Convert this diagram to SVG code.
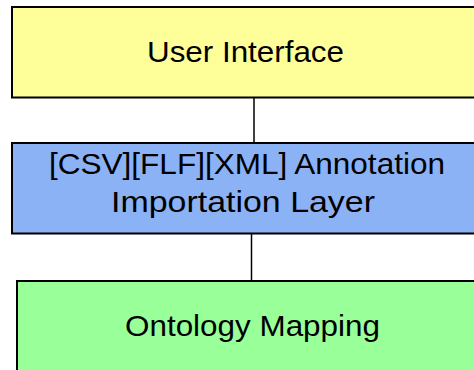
<svg xmlns="http://www.w3.org/2000/svg" width="474" height="370" viewBox="0 0 474 370">
<style>
.box{stroke:#000;stroke-width:2}
.lbl{font-family:"Liberation Sans",Arial,sans-serif;font-size:30px;fill:#000}
.con{stroke:#000;stroke-width:1.5;fill:none}
</style>
<rect width="474" height="370" fill="#fff"/>
<g id="connectors">
<line class="con" x1="254" y1="98" x2="254" y2="143"/>
<line class="con" x1="251.5" y1="234" x2="251.5" y2="281"/>
</g>
<g id="user-interface">
<rect class="box" x="12" y="7" width="480" height="90.5" fill="#FFFF99"/>
<text class="lbl" x="147" y="62.3" textLength="197" lengthAdjust="spacingAndGlyphs">User Interface</text>
</g>
<g id="annotation-importation-layer">
<rect class="box" x="12" y="143" width="480" height="90.5" fill="#8CB2F6"/>
<text class="lbl" x="49" y="173.5" textLength="396" lengthAdjust="spacingAndGlyphs">[CSV][FLF][XML] Annotation</text>
<text class="lbl" x="111" y="211.5" textLength="264" lengthAdjust="spacingAndGlyphs">Importation Layer</text>
</g>
<g id="ontology-mapping">
<rect class="box" x="17" y="281" width="480" height="100" fill="#99FF99"/>
<text class="lbl" x="125" y="335.5" textLength="255" lengthAdjust="spacingAndGlyphs">Ontology Mapping</text>
</g>
</svg>
